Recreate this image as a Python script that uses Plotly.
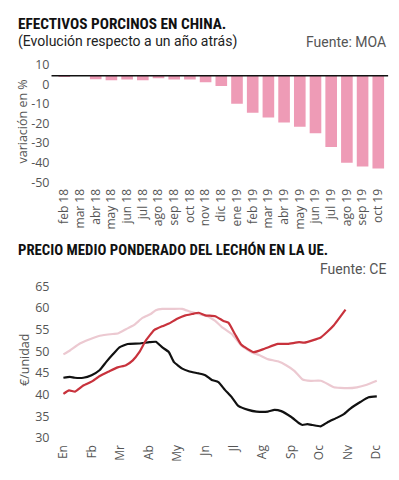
import plotly.graph_objects as go

W, H = 399, 480

# ---------------- data: top chart ----------------
bar_labels = ["feb 18", "mar 18", "abr 18", "may 18", "jun 18", "jul 18", "ago 18",
              "sep 18", "oct 18", "nov 18", "dic 18", "ene 19", "feb 19", "mar 19",
              "abr 19", "may 19", "jun 19", "jul 19", "ago 19", "sep 19", "oct 19"]
bar_values = [3.6, 4.3, 2.5, 2.0, 2.35, 2.0, 3.0, 2.35, 2.35, 1.0, -0.9, -10.0,
              -14.5, -17.0, -19.5, -21.7, -25.0, -32.0, -40.0, -42.0, -43.0]
bar_base = 4.3
y1_ticks = [10, 0, -10, -20, -30, -40, -50]

# ---------------- data: bottom chart ----------------
month_labels = ["En", "Fb", "Mr", "Ab", "My", "Jn", "Jl", "Ag", "Sp", "Oc", "Nv", "Dc"]
y2_ticks = [30, 35, 40, 45, 50, 55, 60, 65]

black_x = [0, 0.23, 0.4, 0.7, 0.99, 1.28, 1.5, 1.74, 1.97, 2.26, 2.67, 3.02, 3.25, 3.48,
           3.71, 3.89, 4.18, 4.41, 4.76, 4.99, 5.22, 5.45, 5.68, 5.92, 6.15, 6.5, 6.79,
           7.19, 7.42, 7.66, 8.0, 8.29, 8.41, 8.58, 8.76, 9.05, 9.28, 9.63, 9.86, 10.09,
           10.44, 10.73, 11.02]
black_y = [43.9, 44.1, 43.9, 43.9, 44.5, 45.7, 47.5, 49.3, 50.9, 51.7, 51.8, 52.1, 52.2,
           50.9, 49.8, 47.5, 46.0, 45.4, 44.9, 44.5, 43.4, 42.9, 41.1, 39.4, 37.4, 36.5,
           36.1, 36.1, 36.5, 36.2, 34.9, 33.4, 33.0, 33.2, 33.0, 32.7, 33.6, 34.7, 35.5,
           36.8, 38.3, 39.4, 39.6]

pink_x = [0, 0.23, 0.58, 0.93, 1.28, 1.74, 1.91, 2.2, 2.49, 2.78, 3.07, 3.25, 3.48, 3.83,
          4.18, 4.47, 4.76, 5.1, 5.34, 5.57, 5.92, 6.26, 6.61, 6.9, 7.19, 7.54, 7.83,
          8.12, 8.41, 8.7, 9.05, 9.34, 9.51, 9.98, 10.32, 10.67, 11.02]
pink_y = [49.3, 50.2, 51.8, 52.8, 53.6, 54.0, 54.1, 55.1, 56.1, 57.7, 58.6, 59.5, 59.8,
          59.8, 59.8, 59.1, 58.6, 58.0, 57.0, 55.6, 54.0, 51.3, 49.8, 49.1, 48.2, 47.7,
          46.8, 45.5, 43.5, 43.2, 43.2, 42.3, 41.7, 41.5, 41.7, 42.3, 43.2]

red_x = [0, 0.2, 0.41, 0.7, 0.99, 1.28, 1.62, 1.91, 2.2, 2.44, 2.67, 2.9, 3.19, 3.48,
         3.71, 4.0, 4.29, 4.52, 4.76, 4.99, 5.34, 5.63, 5.8, 6.03, 6.26, 6.69, 7.07,
         7.54, 7.89, 8.29, 8.47, 9.05, 9.28, 9.51, 9.92]
red_y = [40.2, 41.0, 40.7, 42.1, 43.0, 44.3, 45.4, 46.3, 46.8, 47.9, 49.8, 52.5, 54.9,
         55.8, 56.4, 57.5, 58.3, 58.6, 58.9, 58.3, 58.1, 57.0, 56.6, 54.0, 51.5, 49.8,
         50.6, 51.7, 51.7, 52.1, 52.0, 53.2, 54.5, 56.0, 59.6]


def px(x):
    return x / W


def py(y):
    return 1 - y / H


TITLE_FONT = "Liberation Sans Narrow, Roboto Condensed, Roboto, sans-serif"
TEXT_FONT = "Liberation Sans Narrow, Roboto, sans-serif"
TICK_FONT = "Open Sans, Roboto, sans-serif"
GREY = "#555555"

fig = go.Figure()

# top bars
fig.add_trace(go.Bar(
    x=list(range(len(bar_labels))), y=[v - bar_base for v in bar_values], base=bar_base,
    marker=dict(color="#ee9bb6", line=dict(width=0)),
    xaxis="x", yaxis="y", showlegend=False, hoverinfo="skip",
))

# bottom lines
fig.add_trace(go.Scatter(x=pink_x, y=pink_y, mode="lines",
                         line=dict(color="#ecc9d1", width=2.2, shape="spline", smoothing=0.4),
                         xaxis="x2", yaxis="y2", showlegend=False))
fig.add_trace(go.Scatter(x=black_x, y=black_y, mode="lines",
                         line=dict(color="#111111", width=2.2, shape="spline", smoothing=0.4),
                         xaxis="x2", yaxis="y2", showlegend=False))
fig.add_trace(go.Scatter(x=red_x, y=red_y, mode="lines",
                         line=dict(color="#c8323c", width=2.2, shape="spline", smoothing=0.4),
                         xaxis="x2", yaxis="y2", showlegend=False))

# geometry (pixel)
t_left, t_right, t_top, t_bot = 53, 386, 55, 185
t_ppu = 2.0
t_ymax = 10 + (61.7 - t_top) / t_ppu
t_ymin = -50 - (t_bot - 181.7) / t_ppu

b_left, b_right, b_top, b_bot = 55, 385, 283, 446
b_ppm = (376 - 60) / 11
b_ppu = (442.3 - 287.7) / 35
b_xmin = 0 - (60 - b_left) / b_ppm
b_xmax = 11 + (b_right - 376) / b_ppm
b_ymax = 30 + (442.3 - b_top) / b_ppu
b_ymin = 30 - (b_bot - 442.3) / b_ppu

axis_common = dict(showgrid=False, zeroline=False, showline=False, ticks="",
                   fixedrange=True)

fig.update_layout(
    width=W, height=H, margin=dict(l=0, r=0, t=0, b=0),
    paper_bgcolor="white", plot_bgcolor="white",
    bargap=0.26,
    xaxis=dict(domain=[px(t_left), px(t_right)], range=[-0.5, len(bar_labels) - 0.5],
               tickmode="array", tickvals=list(range(len(bar_labels))), ticktext=bar_labels,
               tickangle=-90, tickfont=dict(family=TICK_FONT, size=12, color=GREY),
               anchor="y", **axis_common),
    yaxis=dict(domain=[py(t_bot), py(t_top)], range=[t_ymin, t_ymax],
               tickmode="array", tickvals=y1_ticks, ticktext=[str(v) for v in y1_ticks],
               tickfont=dict(family=TICK_FONT, size=12.5, color=GREY),
               ticklabelstandoff=6,
               anchor="x", **axis_common),
    xaxis2=dict(domain=[px(b_left), px(b_right)], range=[b_xmin, b_xmax],
                tickmode="array", tickvals=list(range(12)), ticktext=month_labels,
                tickangle=-90, tickfont=dict(family=TICK_FONT, size=12, color=GREY),
                anchor="y2", **axis_common),
    yaxis2=dict(domain=[py(b_bot), py(b_top)], range=[b_ymin, b_ymax],
                tickmode="array", tickvals=y2_ticks, ticktext=[str(v) for v in y2_ticks],
                tickfont=dict(family=TICK_FONT, size=12.5, color=GREY),
                ticklabelstandoff=8,
                anchor="x2", **axis_common),
    shapes=[dict(type="line", xref="paper", yref="y", x0=px(48), x1=px(388),
                 y0=bar_base, y1=bar_base, line=dict(color="#111111", width=1.3))],
)

ann = [
    dict(text="<b>EFECTIVOS PORCINOS EN CHINA.</b>", x=px(12), y=py(20), xanchor="left",
         yanchor="middle", font=dict(family=TITLE_FONT, size=15.3, color="#111111")),
    dict(text="(Evolución respecto a un año atrás)", x=px(12), y=py(38.5), xanchor="left",
         yanchor="middle", font=dict(family=TEXT_FONT, size=14, color="#222222")),
    dict(text="Fuente: MOA", x=px(388), y=py(38.5), xanchor="right",
         yanchor="middle", font=dict(family=TEXT_FONT, size=14, color=GREY)),
    dict(text="variación en %", x=px(19), y=py(120), xanchor="center", yanchor="middle",
         textangle=-90, font=dict(family=TICK_FONT, size=12.5, color=GREY)),
    dict(text="<b>PRECIO MEDIO PONDERADO DEL LECHÓN EN LA UE.</b>", x=px(12), y=py(251),
         xanchor="left", yanchor="middle",
         font=dict(family=TITLE_FONT, size=14.8, color="#111111")),
    dict(text="Fuente: CE", x=px(388), y=py(270), xanchor="right",
         yanchor="middle", font=dict(family=TEXT_FONT, size=14, color=GREY)),
    dict(text="€/unidad", x=px(20), y=py(363), xanchor="center", yanchor="middle",
         textangle=-90, font=dict(family=TICK_FONT, size=12.5, color=GREY)),
]
for a in ann:
    a.update(xref="paper", yref="paper", showarrow=False)
fig.update_layout(annotations=ann)

fig.write_html("out.html", config={"displayModeBar": False},
               post_script="document.body.style.margin='0';document.body.style.padding='0';")
